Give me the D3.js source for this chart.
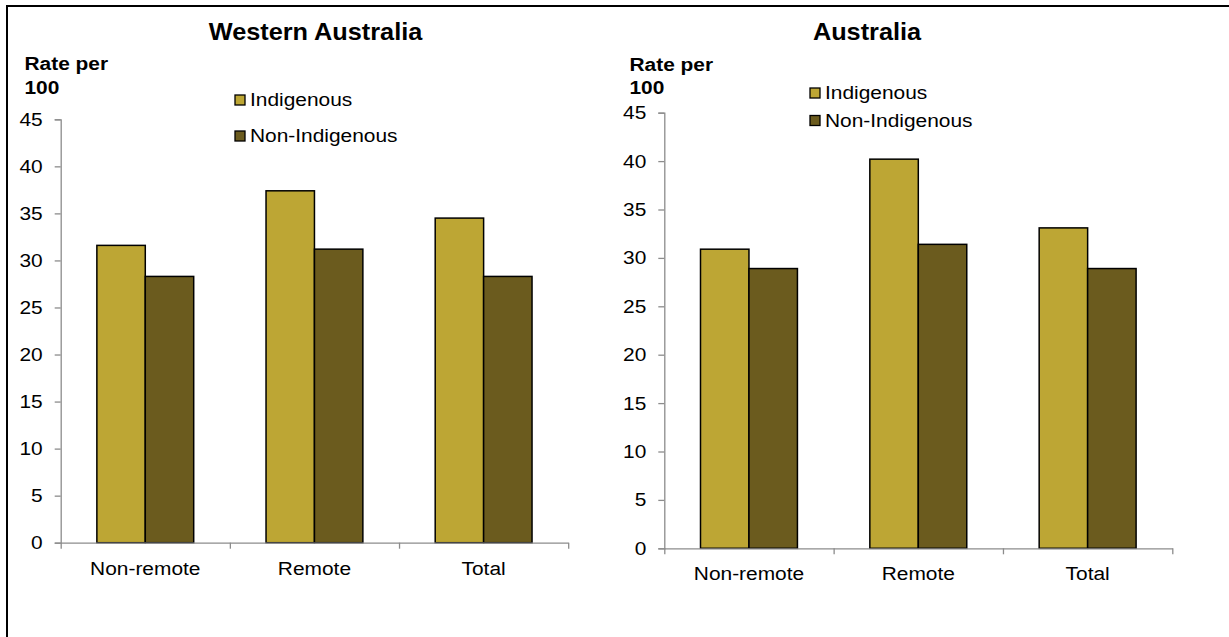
<!DOCTYPE html>
<html>
<head>
<meta charset="utf-8">
<script src="https://cdn.jsdelivr.net/npm/d3@7"></script>
<style>
  html, body { margin: 0; padding: 0; background: #fff; }
  svg { display: block; font-family: "Liberation Sans", Arial, sans-serif; }
</style>
</head>
<body>
<svg id="chart" width="1229" height="637"></svg>
<script>
// Rates per 100, by remoteness
const categories = ["Non-remote", "Remote", "Total"];
const series = ["Indigenous", "Non-Indigenous"];
const waIndigenous = [31.6, 37.4, 34.5];
const waNonIndigenous = [28.3, 31.2, 28.3];
const ausIndigenous = [30.9, 40.2, 33.1];
const ausNonIndigenous = [28.9, 31.4, 28.9];
const yTicks = [0, 5, 10, 15, 20, 25, 30, 35, 40, 45];
const panelTitles = ["Western Australia", "Australia"];
const axisTitleLines = ["Rate per", "100"];

const colors = { "Indigenous": "#bda634", "Non-Indigenous": "#6b5b1e" };
const SX = 1.1; // slight horizontal stretch of the lettering
const axisGrey = "#8c8c8c";

const svg = d3.select("#chart");
svg.append("rect").attr("width", 1229).attr("height", 637).attr("fill", "#fff");

// frame: top and left rules
svg.append("line").attr("x1", 7).attr("x2", 1229).attr("y1", 6).attr("y2", 6)
  .attr("stroke", "#000").attr("stroke-width", 2);
svg.append("line").attr("x1", 7).attr("x2", 7).attr("y1", 5).attr("y2", 637)
  .attr("stroke", "#000").attr("stroke-width", 2);

function stretchedText(g, x, y, str, opts) {
  return g.append("text")
    .attr("transform", `translate(${x},${y}) scale(${SX},1)`)
    .attr("text-anchor", opts.anchor || "start")
    .attr("font-size", opts.size)
    .attr("font-weight", opts.weight || "normal")
    .attr("fill", "#000")
    .text(str);
}

const panels = [
  {
    title: panelTitles[0], ind: waIndigenous, non: waNonIndigenous,
    xRange: [60.7, 568.2], yRange: [542.7, 119.3],
    titleX: 315.5, titleY: 40, rateX: 24.5, rateY: [70, 93.5],
    legX: 235, legY: [95, 131], legTextDy: 11
  },
  {
    title: panelTitles[1], ind: ausIndigenous, non: ausNonIndigenous,
    xRange: [664.3, 1172.3], yRange: [548.3, 112.7],
    titleX: 867, titleY: 39.5, rateX: 629.5, rateY: [70.5, 94],
    legX: 810, legY: [88, 115.5], legTextDy: 11
  }
];

panels.forEach(p => {
  const g = svg.append("g");

  const x0 = d3.scaleBand().domain(categories).range(p.xRange).paddingInner(0).paddingOuter(0);
  const x1 = d3.scaleBand().domain(series).range([0, x0.bandwidth()]).paddingInner(0).paddingOuter(0.747);
  const y = d3.scaleLinear().domain([0, 45]).range(p.yRange);

  // bars
  const rows = categories.map((c, i) => ({ cat: c, values: [
    { key: series[0], value: p.ind[i] },
    { key: series[1], value: p.non[i] }
  ]}));

  const groups = g.selectAll("g.cat").data(rows).join("g")
    .attr("class", "cat")
    .attr("transform", d => `translate(${x0(d.cat)},0)`);
  groups.selectAll("rect").data(d => d.values).join("rect")
    .attr("x", d => x1(d.key))
    .attr("y", d => y(d.value))
    .attr("width", x1.bandwidth())
    .attr("height", d => y(0) - y(d.value))
    .attr("fill", d => colors[d.key])
    .attr("stroke", "#000")
    .attr("stroke-width", 1.5);

  // y axis
  const yAxis = g.append("g")
    .attr("transform", `translate(${p.xRange[0]},0)`)
    .call(d3.axisLeft(y).tickValues(yTicks).tickSize(6).tickSizeOuter(6).tickPadding(10.4));
  yAxis.select(".domain").attr("stroke", axisGrey).attr("stroke-width", 1.3);
  yAxis.selectAll(".tick line").attr("stroke", axisGrey).attr("stroke-width", 1.3);
  yAxis.selectAll(".tick text")
    .attr("font-size", 19).attr("font-family", "Liberation Sans, Arial, sans-serif")
    .attr("fill", "#000").attr("transform", `scale(${SX},1)`);

  // x axis rule with ticks on category boundaries
  const xb = d3.scaleLinear().domain([0, categories.length]).range(p.xRange);
  const xRule = g.append("g")
    .attr("transform", `translate(0,${y(0)})`)
    .call(d3.axisBottom(xb).tickValues(d3.range(categories.length + 1)).tickFormat("").tickSize(6).tickSizeOuter(0));
  xRule.select(".domain").attr("stroke", axisGrey).attr("stroke-width", 1.3);
  xRule.selectAll(".tick line").attr("stroke", axisGrey).attr("stroke-width", 1.3);

  // category labels
  const xLab = g.append("g")
    .attr("transform", `translate(0,${y(0)})`)
    .call(d3.axisBottom(x0).tickSize(0).tickPadding(18.5));
  xLab.select(".domain").remove();
  xLab.selectAll(".tick text")
    .attr("font-size", 19).attr("font-family", "Liberation Sans, Arial, sans-serif")
    .attr("fill", "#000").attr("transform", `scale(${SX},1)`);

  // titles
  stretchedText(g, p.titleX, p.titleY, p.title, { anchor: "middle", size: 23, weight: "bold" });
  axisTitleLines.forEach((t, i) =>
    stretchedText(g, p.rateX, p.rateY[i], t, { size: 19, weight: "bold" }));

  // legend
  series.forEach((s, i) => {
    g.append("rect")
      .attr("x", p.legX).attr("y", p.legY[i])
      .attr("width", 10).attr("height", 10)
      .attr("fill", colors[s]).attr("stroke", "#000").attr("stroke-width", 1.3);
    stretchedText(g, p.legX + 15, p.legY[i] + p.legTextDy, s, { size: 19 });
  });
});
</script>
</body>
</html>
